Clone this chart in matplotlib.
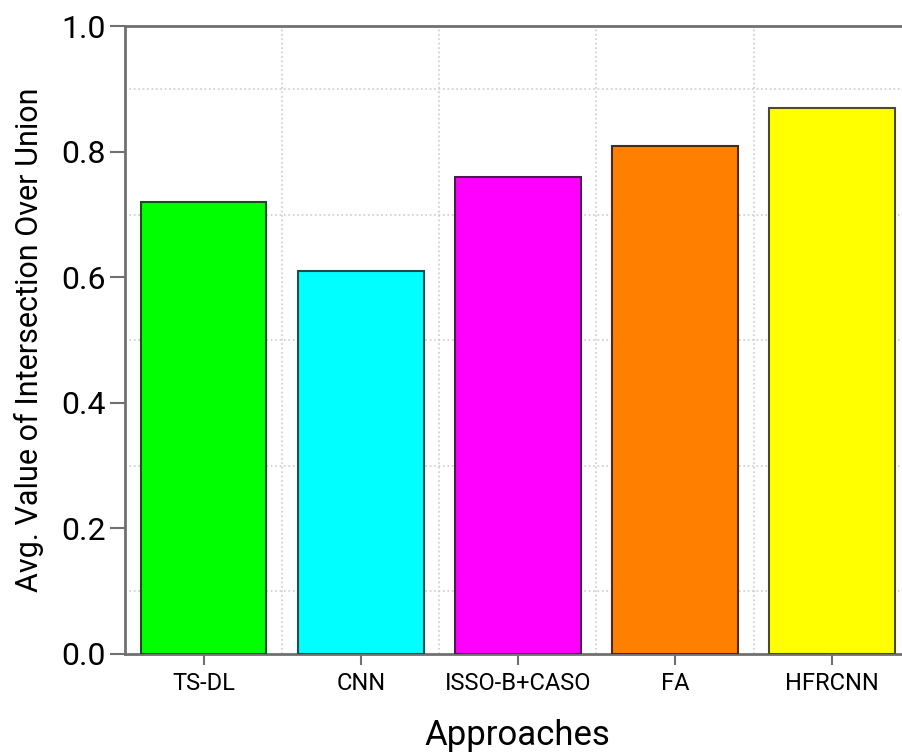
import numpy as np
import matplotlib
matplotlib.use("Agg")
import matplotlib.pyplot as plt

# Data
# ----
approaches = ['TS-DL', 'CNN', 'ISSO-B+CASO', 'FA', 'HFRCNN']
iou_values = [0.72, 0.61, 0.76, 0.81, 0.87]
bar_colors = ['#00ff00', '#00ffff', '#ff00ff', '#ff8000', '#ffff00']
edge_colors = ['#1a4d1a', '#1a4d4d', '#4d1a4d', '#4d2a10', '#4d4d1a']
y_ticks = [0.0, 0.2, 0.4, 0.6, 0.8, 1.0]

plt.rcParams['font.family'] = ['Roboto', 'DejaVu Sans']
spine_col = '#707070'

fig = plt.figure(figsize = (9.03, 7.56), dpi = 100)
ax = fig.add_axes([0.1385, 0.135, 0.87, 0.83])

x = np.arange(len(approaches))
ax.bar(x, iou_values, width = 0.8, color = bar_colors, edgecolor = edge_colors, linewidth = 1.5, zorder = 3)

ax.set_xlim(-0.5, 4.5)
ax.set_ylim(0, 1.0)
ax.set_yticks(y_ticks)
ax.set_yticklabels(['{:.1f}'.format(v) for v in y_ticks], fontsize = 23)
ax.set_xticks(x)
ax.set_xticklabels(approaches, fontsize = 17)

# minor gridlines only (between bars / odd tenths)
ax.set_yticks(np.arange(0.1, 1.0, 0.2), minor = True)
ax.set_xticks(np.arange(0.5, 4.5, 1.0), minor = True)
ax.grid(which = 'minor', color = '#cccccc', linestyle = ':', linewidth = 1.2, zorder = 0)
ax.tick_params(which = 'minor', length = 0)
ax.tick_params(axis = 'y', which = 'major', color = spine_col, width = 1.5, length = 11, direction = 'out', pad = 3)
ax.tick_params(axis = 'x', which = 'major', color = spine_col, width = 1.5, length = 8, direction = 'out', pad = 5)

for side in ['left', 'top', 'bottom']:
	ax.spines[side].set_color(spine_col)
	ax.spines[side].set_linewidth(2)
ax.spines['right'].set_visible(False)

ax.set_xlabel('Approaches', fontsize = 25, labelpad = 17)
ax.set_ylabel('Avg. Value of Intersection Over Union', fontsize = 22, labelpad = 12)

plt.savefig('out.png', dpi = 100, facecolor = 'w')
